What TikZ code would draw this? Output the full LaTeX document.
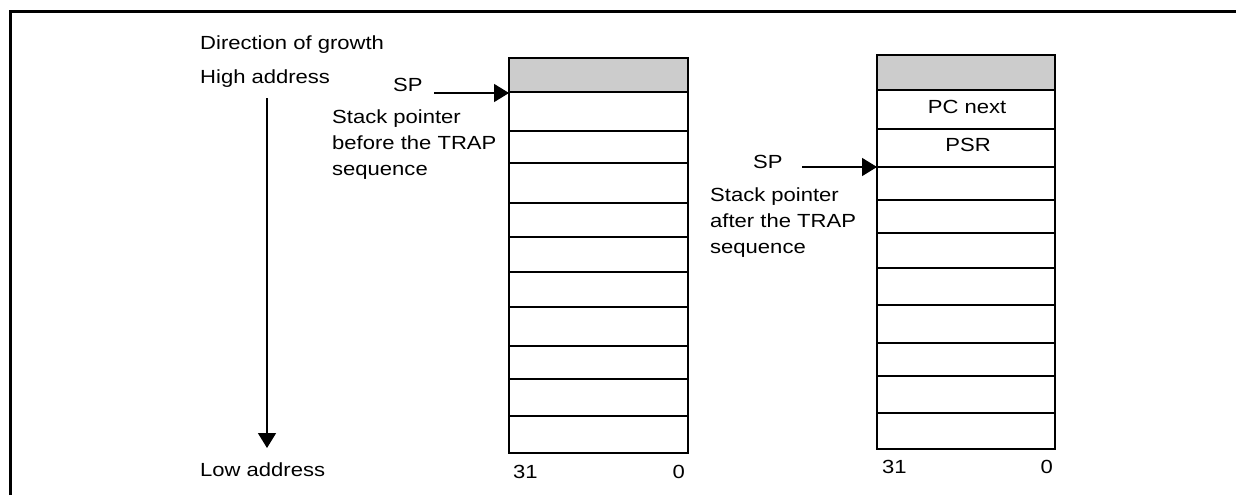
\documentclass[tikz,border=0pt]{standalone}
\usepackage{fontspec}
\setmainfont{Liberation Sans}[FakeStretch=1.16]
\usetikzlibrary{arrows.meta}
\begin{document}
\begin{tikzpicture}[x=1pt,y=-1pt,
  lbl/.style={inner sep=0pt, font=\fontsize{19pt}{26pt}\selectfont},
  grid/.style={line width=1.8pt},
  ptr/.style={line width=1.6pt, -{Triangle[length=15pt,width=18pt]}},
  frame/.style={line width=3pt}]
\useasboundingbox (0,0) rectangle (1236,495);
% outer frame (top and left edges)
\draw[frame] (10,495) -- (10,12) -- (1236,12);

% growth direction
\node[lbl, anchor=base west] (dir) at (200,50) {Direction of growth};
\node[lbl, anchor=base west] (hi) at (200,83) {High address};
\node[lbl, anchor=base west] (lo) at (200,476) {Low address};
\coordinate (gtop) at (267,98);
\coordinate (gbot) at (267,448);
\draw[ptr] (gtop) -- (gbot);

% stack before the TRAP sequence
\fill[gray!40] (509,58) rectangle (688,92);
\foreach \y in {92,131,163,203,237,272,307,346,379,416}
  \draw[grid] (509,\y) -- (688,\y);
\draw[grid] (509,58) rectangle (688,453);
\node[lbl, anchor=base west] (b31L) at (513,478) {31};
\node[lbl, anchor=base east] (b0L) at (685,478) {0};

\node[lbl, anchor=base west] (spL) at (393,92) {SP};
\coordinate (spLtail) at (434,93);
\coordinate (lsp) at (509,93);
\draw[ptr] (spLtail) -- (lsp);
\node[lbl, anchor=north west, align=left] (descL) at (332,110)
  {Stack pointer\\before the TRAP\\sequence};

% stack after the TRAP sequence
\fill[gray!40] (877,55) rectangle (1055,90);
\foreach \y in {90,129,167,200,233,268,305,343,376,413}
  \draw[grid] (877,\y) -- (1055,\y);
\draw[grid] (877,55) rectangle (1055,449);
\node[lbl, anchor=base] (pcn) at (967,113) {PC next};
\node[lbl, anchor=base] (psr) at (968,151) {PSR};
\node[lbl, anchor=base west] (b31R) at (882,473) {31};
\node[lbl, anchor=base east] (b0R) at (1053,473) {0};

\node[lbl, anchor=base west] (spR) at (753,168) {SP};
\coordinate (spRtail) at (802,167);
\coordinate (rsp) at (877,167);
\draw[ptr] (spRtail) -- (rsp);
\node[lbl, anchor=north west, align=left] (descR) at (710,188)
  {Stack pointer\\after the TRAP\\sequence};
\end{tikzpicture}
\end{document}
